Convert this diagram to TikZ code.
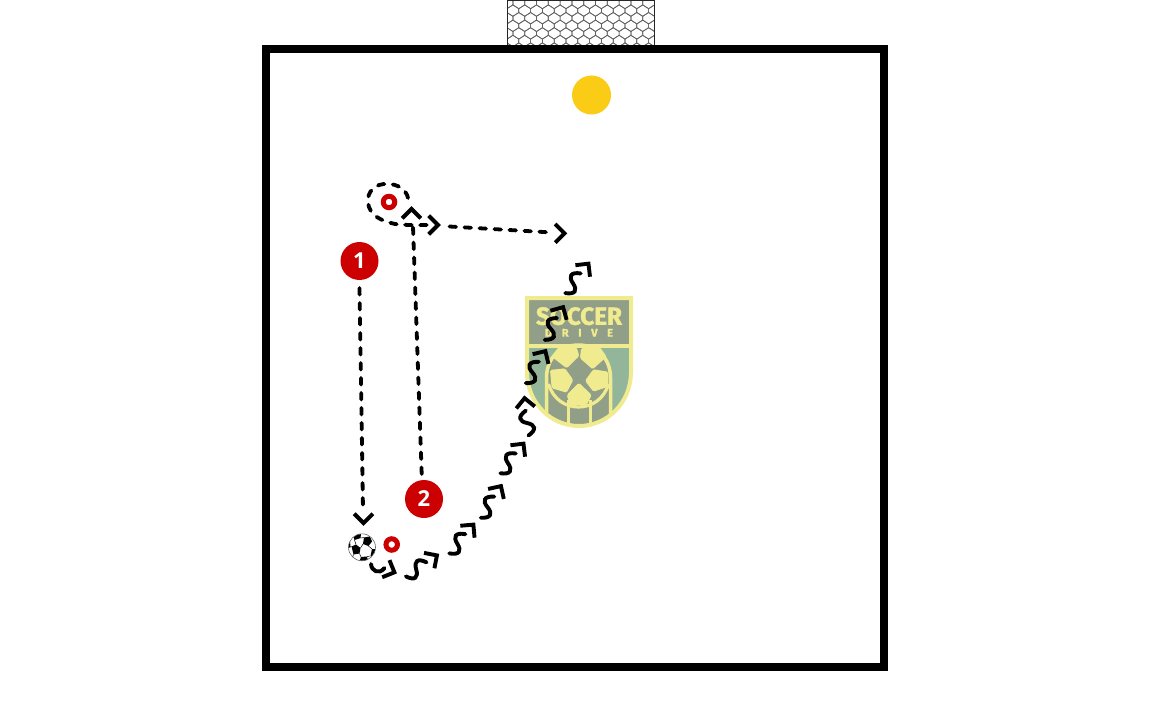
\documentclass[tikz,border=0pt]{standalone}
\usepackage{fontspec}
\setmainfont{Open Sans}
\newfontfamily\logofont[BoldFeatures={FakeBold=1.6}]{Fira Sans}
\definecolor{teamred}{HTML}{CC0000}
\definecolor{keeper}{HTML}{FACC15}
\definecolor{lgold}{HTML}{F1EB90}
\definecolor{lgray}{HTML}{919F88}
\definecolor{lgreen}{HTML}{93B69A}
\tikzset{
  runline/.style={black,line width=3.8pt,line cap=round,dash pattern=on 6.6pt off 8.4pt},
  inkline/.style={black,line width=3.9pt},
  player/.style={circle,fill=teamred,inner sep=0pt,minimum size=38pt,text=white,font=\bfseries\fontsize{22}{22}\selectfont},
  conering/.style={draw=teamred,line width=5pt,circle,inner sep=0pt,minimum size=11.5pt},
  chev/.pic={\draw[inkline,miter limit=4] (-11.8,-9.3) -- (-2.5,0) -- (-11.8,9.3);},
  squig/.pic={\draw[inkline,line cap=round] (-40,0) .. controls (-35,9) and (-30,8) .. (-27.5,0) .. controls (-25,-8) and (-20,-9) .. (-15,0);
     \draw[inkline,miter limit=4] (-11.8,-9.3) -- (-2.5,0) -- (-11.8,9.3);},
  pent/.style={fill=lgold,rounded corners=1.5pt}
}
\begin{document}
\begin{tikzpicture}[x=1pt,y=-1pt]
\useasboundingbox (0,0) rectangle (1156,722);
% goal net
\begin{scope}
  \clip (507.5,0) rectangle (654,45);
  \foreach \i in {0,...,13}{
    \foreach \j in {0,...,7}{
      \pgfmathsetmacro\cx{507+\i*11.8+mod(\j,2)*5.9}
      \pgfmathsetmacro\cy{3+\j*7.6}
      \draw[black!62,line width=.7pt] (\cx,\cy-5.7) -- (\cx+5.9,\cy-1.9) -- (\cx+5.9,\cy+1.9) -- (\cx,\cy+5.7) -- (\cx-5.9,\cy+1.9) -- (\cx-5.9,\cy-1.9) -- cycle;
    }
  }
\end{scope}
\draw[black!85,line width=.9pt] (507.5,45) -- (507.5,0.4) -- (654,0.4) -- (654,45);
% field
\draw[black,line width=8pt] (266,49) rectangle (884,667);
% keeper
\node[circle,fill=keeper,inner sep=0pt,minimum size=39pt] (gk) at (591.5,95) {};
% logo
\path[fill=lgreen] (527,298) -- (631,298) -- (631,372) .. controls (631,403) and (607,426) .. (579,426) .. controls (551,426) and (527,403) .. (527,372) -- cycle;
\begin{scope}
  \clip (527,298) -- (631,298) -- (631,372) .. controls (631,403) and (607,426) .. (579,426) .. controls (551,426) and (527,403) .. (527,372) -- cycle;
  \fill[lgray] (527,298) rectangle (631,345);
  \path[fill=lgray,draw=lgold,line width=3.5pt] (546.5,430) -- (546.5,378) .. controls (546.5,358) and (560,345) .. (578.5,345) .. controls (597,345) and (610.5,358) .. (610.5,378) -- (610.5,430);
  \fill[lgold] (527,344) rectangle (631,347.5);
  \draw[lgold,line width=3.4pt] (568.3,400) -- (568.3,430) (590.7,400) -- (590.7,430);
  \draw[lgold,line width=3.2pt] (548.5,384) .. controls (553,399) and (565,407) .. (578.5,407) .. controls (592,407) and (604,399) .. (608.5,384);
\end{scope}
\fill[pent] (551.7,356.7) -- (558.3,347.3) -- (576.7,347.3) -- (579.3,356) -- (566.7,368.3) -- cycle;
\fill[pent] (581,348.3) -- (600,347.3) -- (606.7,356.7) -- (592.7,369.3) -- (580,358.3) -- cycle;
\fill[pent] (550,370) -- (565,368.3) -- (573.3,380) -- (566.7,392.7) -- (551.7,388.3) -- cycle;
\fill[pent] (585,380.7) -- (593.3,369.3) -- (608.3,371.7) -- (608.3,386.7) -- (593.3,391.7) -- cycle;
\fill[pent] (579,382.7) -- (591.7,395) -- (586.7,405) -- (570,405) -- (566.7,395) -- cycle;
\path[draw=lgold,line width=4pt] (527,298) -- (631,298) -- (631,372) .. controls (631,403) and (607,426) .. (579,426) .. controls (551,426) and (527,403) .. (527,372) -- cycle;
\node[inner sep=0pt,text=lgold] (soccer) at (579,316.2) {\resizebox{86pt}{17.6pt}{\logofont\bfseries SOCCER}};
\node[inner sep=0pt,text=lgold,font=\logofont\bfseries\fontsize{11}{11}\selectfont] (drive) at (579,332.8) {\makebox[68pt]{D\hfill R\hfill I\hfill V\hfill E}};
% players and cones
\node[player] (p1) at (359.5,261) {1};
\node[player] (p2) at (424,499) {2};
\node[conering] (coneA) at (389,202) {};
\node[conering] (coneB) at (391.7,544.5) {};
% named ends
\coordinate (r1s) at (359.5,288);
\coordinate (r1e) at (363,510);
\coordinate (r2s) at (421.7,474);
\coordinate (r2e) at (412.8,221);
\coordinate (c1s) at (408,198);
\coordinate (c1e) at (427,225);
\coordinate (r3s) at (449.5,226.5);
\coordinate (r3e) at (552,232.5);
% runs
\draw[runline] (r1s) -- (r1e);
\pic[rotate=-90] at (363.5,525.5) {chev};
\draw[runline] (r2s) -- (r2e);
\pic[rotate=90] at (411.5,206.5) {chev};
\draw[runline] (c1s) .. controls (406,189) and (397,184) .. (388,184) .. controls (375,183) and (367,192) .. (368,202) .. controls (369,216) and (382,221) .. (395,224) .. controls (408,225.5) and (420,225) .. (c1e);
\pic[rotate=0] at (440.5,225) {chev};
\draw[runline] (r3s) -- (r3e);
\pic[rotate=0] at (567,233.3) {chev};
% dribble
\foreach \x/\y/\a in {439/554/34,475/522.7/50,502.3/484/57.5,525/441.7/52,524.3/395.7/96,546.7/349/58.5,564.3/305/60.7,590/261.7/51.7}{
  \pic[rotate=\a] at (\x,\y) {squig};
}
\pic[rotate=-23] at (396.7,573.3) {chev};
\coordinate (d0s) at (371,564);
\coordinate (d0e) at (384.5,568);
\draw[inkline,line cap=round] (d0s) .. controls (371.5,571) and (379,575) .. (d0e);
% ball
\node[circle,draw=black!60,fill=white,line width=.6pt,inner sep=0pt,minimum size=27pt] (ball) at (362,547.3) {};
\begin{scope}
  \clip (362,547.3) circle (13.2);
  \fill[black] (351.5,546.5) -- (356,544.5) -- (360.5,548) -- (359.5,553.5) -- (353.5,554.5) -- cycle;
  \fill[black] (364,537.5) -- (370,536.5) -- (372,541.5) -- (368.5,546) -- (363,544) -- cycle;
  \fill[black] (352.5,534) -- (361,534) -- (360.5,538) -- (354.5,540) -- cycle;
  \fill[black] (372,549) -- (376,549) -- (375,557) -- (370.5,556) -- cycle;
  \fill[black] (359.5,561) -- (361,557) -- (367,556.5) -- (368,561) -- cycle;
  \fill[black] (346,543) -- (350,541) -- (350.5,547) -- (347,549) -- cycle;
  \draw[black,line width=.5pt] (356,544.5) -- (354.5,540) (360.5,538) -- (364,537.5) (363,544) -- (360.5,548) (359.5,553.5) -- (361,557) (368.5,546) -- (372,549) (370.5,556) -- (367,556.5) (353.5,554.5) -- (352,559) (351.5,546.5) -- (350,547);
\end{scope}
\end{tikzpicture}
\end{document}
